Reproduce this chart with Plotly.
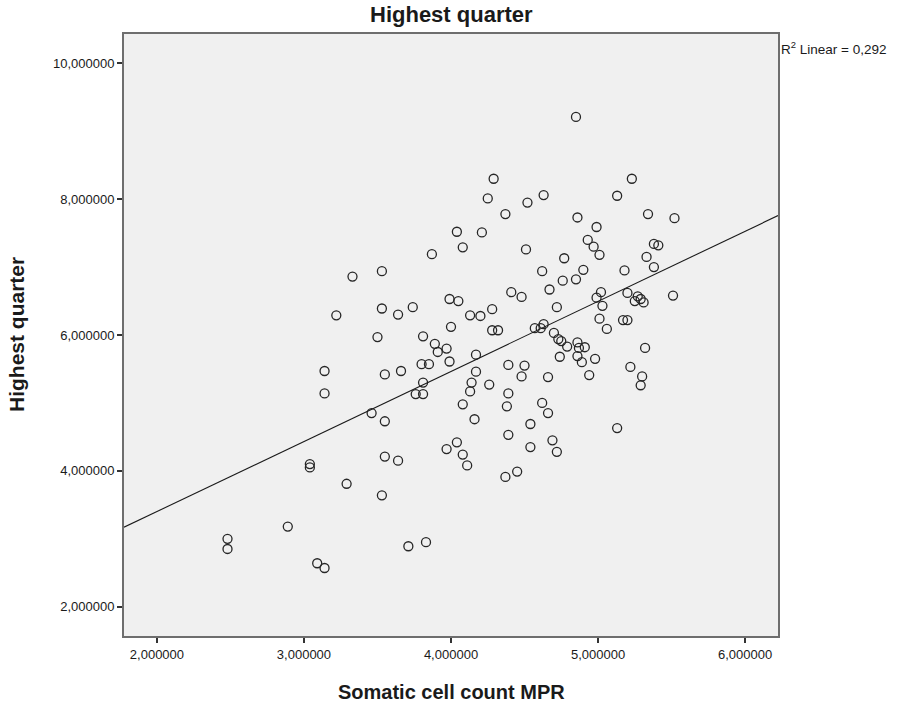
import numpy as np
import plotly.graph_objects as go

# Somatic cell count MPR (x) and Highest quarter (y)
scc_mpr = [
    2.48, 2.48, 2.89, 3.09, 3.14, 3.04, 3.04, 3.29, 3.53, 3.55,
    3.64, 3.71, 3.83, 3.97, 4.04, 4.08, 4.11, 4.39, 4.54, 4.69,
    4.72, 4.37, 4.45, 5.13, 3.14, 3.14, 3.55, 3.66, 3.80, 3.85,
    3.81, 3.76, 3.81, 3.46, 3.55, 3.89, 3.91, 3.97, 3.99, 3.87,
    3.33, 3.53, 3.22, 3.53, 3.64, 3.74, 3.99, 4.00, 3.50, 3.81,
    4.85, 4.29, 5.23, 4.25, 4.63, 4.52, 5.13, 4.37, 4.86, 5.34,
    5.52, 4.99, 4.04, 4.21, 4.08, 4.51, 4.93, 4.97, 5.01, 5.38,
    5.41, 5.33, 5.38, 4.77, 4.62, 4.90, 4.85, 4.76, 5.18, 4.67,
    4.41, 4.48, 4.05, 4.28, 4.13, 4.20, 4.72, 5.02, 4.99, 5.03,
    5.20, 5.27, 5.25, 5.29, 5.31, 5.51, 5.01, 5.06, 5.17, 5.20,
    4.28, 4.32, 4.57, 4.61, 4.63, 4.70, 4.73, 4.75, 4.79, 4.86,
    4.87, 4.91, 4.86, 4.74, 4.89, 4.98, 4.94, 5.32, 5.22, 5.30,
    5.29, 4.17, 4.17, 4.14, 4.13, 4.26, 4.39, 4.50, 4.48, 4.66,
    4.39, 4.38, 4.08, 4.16, 4.62, 4.66, 4.54,
]
highest_quarter = [
    3.00, 2.85, 3.18, 2.64, 2.57, 4.10, 4.05, 3.81, 3.64, 4.21,
    4.15, 2.89, 2.95, 4.32, 4.42, 4.24, 4.08, 4.53, 4.35, 4.45,
    4.28, 3.91, 3.99, 4.63, 5.47, 5.14, 5.42, 5.47, 5.57, 5.57,
    5.30, 5.13, 5.13, 4.85, 4.73, 5.87, 5.75, 5.80, 5.61, 7.19,
    6.86, 6.94, 6.29, 6.39, 6.30, 6.41, 6.53, 6.12, 5.97, 5.98,
    9.21, 8.30, 8.30, 8.01, 8.06, 7.95, 8.05, 7.78, 7.73, 7.78,
    7.72, 7.59, 7.52, 7.51, 7.29, 7.26, 7.40, 7.30, 7.18, 7.34,
    7.32, 7.15, 7.00, 7.13, 6.94, 6.96, 6.82, 6.80, 6.95, 6.67,
    6.63, 6.56, 6.50, 6.38, 6.29, 6.28, 6.41, 6.63, 6.55, 6.43,
    6.62, 6.57, 6.50, 6.53, 6.48, 6.58, 6.24, 6.09, 6.22, 6.22,
    6.07, 6.07, 6.10, 6.10, 6.16, 6.03, 5.94, 5.91, 5.83, 5.89,
    5.81, 5.82, 5.69, 5.68, 5.60, 5.65, 5.41, 5.81, 5.53, 5.39,
    5.26, 5.71, 5.46, 5.30, 5.17, 5.27, 5.56, 5.55, 5.39, 5.38,
    5.14, 4.95, 4.98, 4.76, 5.00, 4.85, 4.69,
]
x_ticks = [2, 3, 4, 5, 6]
y_ticks = [2, 4, 6, 8, 10]
x_range = [1.776, 6.224]
y_range = [1.569, 10.431]
r2_label = "R<sup>2</sup> Linear = 0,292"

xs = np.array(scc_mpr)
ys = np.array(highest_quarter)
slope, intercept = np.polyfit(xs, ys, 1)
line_x = np.array(x_range)
line_y = intercept + slope * line_x

fig = go.Figure()
fig.add_trace(go.Scatter(
    x=xs, y=ys, mode="markers",
    marker=dict(symbol="circle-open", size=9, color="#262626", line=dict(width=1.3)),
    showlegend=False, hoverinfo="x+y",
))
fig.add_trace(go.Scatter(
    x=line_x, y=line_y, mode="lines",
    line=dict(color="#1a1a1a", width=1.1),
    showlegend=False, hoverinfo="skip",
))

font_family = "Liberation Sans, Arial, sans-serif"
axis_common = dict(
    showgrid=False, zeroline=False,
    showline=True, linecolor="#6e6e6e", linewidth=2, mirror=True,
    ticks="outside", ticklen=5, tickwidth=1.5, tickcolor="#333333",
    tickformat=".6f",
    tickfont=dict(family=font_family, size=13, color="#1a1a1a"),
)
fig.update_xaxes(range=x_range, tickvals=x_ticks, **axis_common)
fig.update_yaxes(range=y_range, tickvals=y_ticks, **axis_common)

fig.update_layout(
    width=905, height=704,
    margin=dict(l=124, r=127, t=34, b=68),
    paper_bgcolor="white", plot_bgcolor="#f0f0f0",
    separators=",.",
    font=dict(family=font_family, color="#1a1a1a"),
    annotations=[
        dict(text="<b>Highest quarter</b>", xref="paper", yref="paper",
             x=0.5, y=1 + 20 / 602, xanchor="center", yanchor="middle",
             showarrow=False, font=dict(size=22, family=font_family)),
        dict(text="<b>Somatic cell count MPR</b>", xref="paper", yref="paper",
             x=0.5, y=-56 / 602, xanchor="center", yanchor="middle",
             showarrow=False, font=dict(size=20, family=font_family)),
        dict(text="<b>Highest quarter</b>", xref="paper", yref="paper",
             x=-108 / 654, y=0.5, xanchor="center", yanchor="middle", textangle=-90,
             showarrow=False, font=dict(size=21, family=font_family)),
        dict(text=r2_label, xref="paper", yref="paper",
             x=1.0, y=1 - 14 / 602, xanchor="left", yanchor="middle", xshift=1,
             showarrow=False, font=dict(size=13.5, family=font_family)),
    ],
)

fig.write_html("out.html")
